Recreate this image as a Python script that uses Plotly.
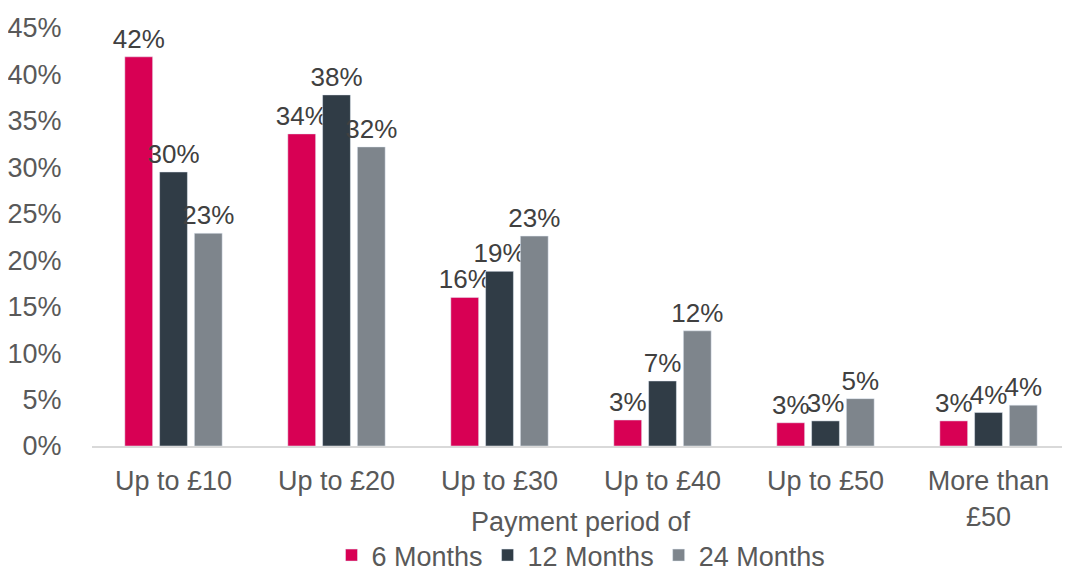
import plotly.graph_objects as go

categories = ["Up to £10", "Up to £20", "Up to £30", "Up to £40", "Up to £50", "More than<br>£50"]
series_names = ["6 Months", "12 Months", "24 Months"]
six_months = [0.419, 0.336, 0.160, 0.028, 0.025, 0.027]
twelve_months = [0.295, 0.378, 0.188, 0.070, 0.027, 0.036]
twentyfour_months = [0.229, 0.322, 0.226, 0.124, 0.051, 0.044]
colors = ["#D80054", "#303C46", "#7E858C"]
x_title = "Payment period of"

FONT = "Liberation Sans, Arial, sans-serif"
fig = go.Figure()
for name, vals, col in zip(series_names, [six_months, twelve_months, twentyfour_months], colors):
    fig.add_trace(go.Bar(
        x=categories, y=vals, name=name, marker_color=col,
        texttemplate="%{y:.0%}", textposition="outside",
        constraintext="none", cliponaxis=False,
        textfont=dict(size=26, color="#404040", family=FONT),
    ))

fig.add_annotation(text=x_title, xref="paper", yref="paper", x=0.5, y=-0.182,
                   xanchor="center", yanchor="middle", showarrow=False,
                   font=dict(size=27, color="#595959", family=FONT))

fig.update_layout(
    width=1062, height=566,
    margin=dict(l=84, r=0, t=20, b=128, autoexpand=False),
    plot_bgcolor="white", paper_bgcolor="white",
    barmode="group", bargap=0.36, bargroupgap=0.2,
    font=dict(family=FONT, size=27, color="#595959"),
    showlegend=True,
    legend=dict(orientation="h", x=0.5, xanchor="center", y=-0.262, yanchor="middle",
                font=dict(size=27, color="#595959"), itemwidth=30, traceorder="normal",
                borderwidth=0),
    xaxis=dict(
        showline=True, linecolor="#D9D9D9", linewidth=2, automargin=False,
        ticks="outside", ticklen=10, tickcolor="rgba(0,0,0,0)",
        tickfont=dict(size=27, color="#595959"),
    ),
    yaxis=dict(
        range=[0, 0.45], dtick=0.05, tickformat=".0%", automargin=False,
        showgrid=False, zeroline=False, showline=False,
        ticks="outside", ticklen=24, tickcolor="rgba(0,0,0,0)",
        tickfont=dict(size=27, color="#595959"),
    ),
)

fig.write_html("out.html")
